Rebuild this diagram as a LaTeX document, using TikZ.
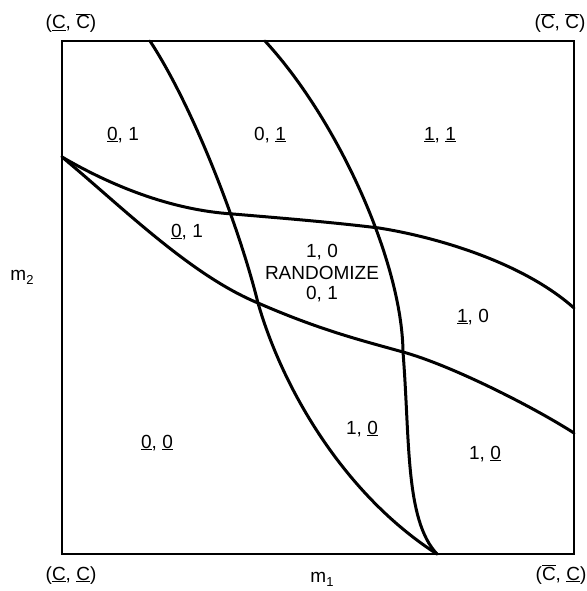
\documentclass[tikz,border=0pt]{standalone}
\usepackage{fontspec}
\setmainfont{Liberation Sans}
\newcommand{\ulx}[1]{\underline{#1}}
\newcommand{\ovx}[1]{$\overline{\hbox{#1}}$}
\newcommand{\subx}[1]{\raisebox{-4.5pt}{\fontsize{13}{13}\selectfont #1}}
\begin{document}
\begin{tikzpicture}[x=1pt,y=-1pt,
  lbl/.style={anchor=base,inner sep=0pt,font=\fontsize{19}{21}\selectfont},
  curve/.style={line width=3pt,line join=round,line cap=round},
  frame/.style={line width=2.6pt,line join=miter}]
\useasboundingbox (0,0) rectangle (586,591);
% corners
\coordinate (TL) at (62,41);
\coordinate (TR) at (574,41);
\coordinate (BR) at (574,554);
\coordinate (BL) at (62,554);
\draw[frame] (TL) -- (TR) -- (BR) -- (BL) -- cycle;
% curve endpoints
\coordinate (L0) at (62,157);
\coordinate (At) at (150,41);
\coordinate (Bt) at (265,41);
\coordinate (Bot) at (437,554);
\coordinate (Cr) at (574,308);
\coordinate (Dr) at (574,433);
\coordinate (AC) at (233,214);
\coordinate (AD) at (258,303);
\coordinate (BC) at (379,228);
\coordinate (BD) at (403,352);
% curve A
\draw[curve] (At) .. controls (195,110) and (240,230) .. (AD)
  .. controls (283,390) and (345,495) .. (Bot);
% curve B
\draw[curve] (Bt) .. controls (338,120) and (402,262) .. (BD)
  .. controls (410,440) and (405,520) .. (Bot);
% curve C
\draw[curve] (L0) .. controls (110,185) and (170,210) .. (AC)
  .. controls (280,218) and (330,222) .. (BC)
  .. controls (430,236) and (520,260) .. (Cr);
% curve D
\draw[curve] (L0) .. controls (120,205) and (190,275) .. (AD)
  .. controls (320,330) and (360,340) .. (BD)
  .. controls (450,365) and (530,405) .. (Dr);
% labels
\node[lbl] (l1) at (123,140) {\ulx{0}, 1};
\node[lbl] (l2) at (270,140) {0, \ulx{1}};
\node[lbl] (l3) at (440,140) {\ulx{1}, \ulx{1}};
\node[lbl] (l4) at (187,237) {\ulx{0}, 1};
\node[lbl] (l5) at (322,257) {1, 0};
\node[lbl] (l6) at (322,279) {RANDOMIZE};
\node[lbl] (l7) at (322,299) {0, 1};
\node[lbl] (l8) at (473,322) {\ulx{1}, 0};
\node[lbl] (l9) at (362,434) {1, \ulx{0}};
\node[lbl] (l10) at (485,459) {1, \ulx{0}};
\node[lbl] (l11) at (157,448) {\ulx{0}, \ulx{0}};
\node[lbl] (c1) at (71,29) {(\ulx{C}, \ovx{C})};
\node[lbl] (c2) at (560,29) {(\ovx{C}, \ovx{C})};
\node[lbl] (c3) at (71,580) {(\ulx{C}, \ulx{C})};
\node[lbl] (c4) at (561,580) {(\ovx{C}, \ulx{C})};
\node[lbl] (m2) at (22,280) {m\subx{2}};
\node[lbl] (m1) at (322,582) {m\subx{1}};
\end{tikzpicture}
\end{document}
